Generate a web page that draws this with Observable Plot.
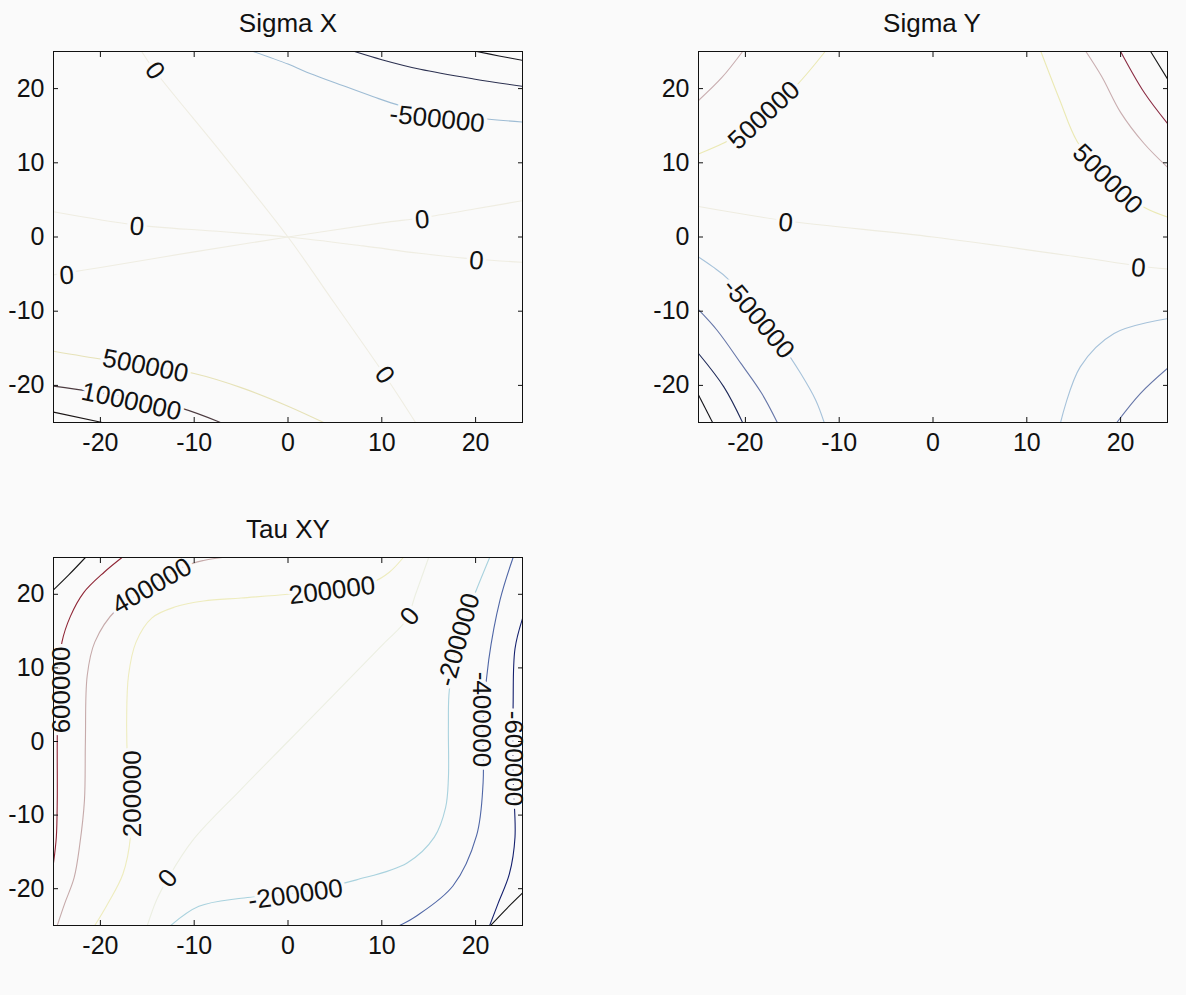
<!DOCTYPE html>
<html>
<head>
<meta charset="utf-8">
<script src="https://cdn.jsdelivr.net/npm/d3@7"></script>
<script src="https://cdn.jsdelivr.net/npm/@observablehq/plot@0.6"></script>
<style>
  body { margin: 0; background: #fafafa; }
  #fig { position: relative; width: 1186px; height: 995px; background: #fafafa;
         font-family: "Liberation Sans", Arial, Helvetica, sans-serif; overflow: hidden; }
  .title { position: absolute; font-size: 26px; line-height: 26px; color: #111;
           transform: translateX(-50%); white-space: nowrap; }
</style>
</head>
<body>
<div id="fig"></div>
<script>
// ---- shared axes -------------------------------------------------------
const axisTicks = [-20, -10, 0, 10, 20];
const axisDomain = [-25, 25];

// ---- Sigma X: contour levels and traced iso-lines ---------------------
const sigmaXLevels = [-1500000, -1000000, -500000, 0, 500000, 1000000, 1500000];
const sigmaXLines = [
  {level: -1500000, pts: [[20.1, 25], [22.5, 24.4], [25, 23.8]]},
  {level: -1000000, pts: [[7.1, 25], [10, 23.9], [14.1, 22.6], [19.8, 21.3], [25, 20.3]]},
  {level: -500000, pts: [[-3.7, 25], [0, 23.3], [2, 22.2], [5, 20.8], [9.1, 18.9], [12, 17.7], [16, 16.6], [21.2, 15.9], [25, 15.5]]},
  {level: 0, pts: [[-25, 3.4], [-16.1, 1.6], [-8, 0.8], [0, 0], [8, -1.2], [14, -2.2], [20.1, -3.0], [25, -3.4]]},
  {level: 0, pts: [[-25, -5.1], [-20, -4.1], [-10, -2.0], [0, 0], [10, 1.9], [14.3, 2.6], [20, 3.8], [25, 4.9]]},
  {level: 0, pts: [[-15.6, 25], [-14.2, 22.4], [-7, 11.2], [0, 0], [5, -9], [10.3, -18.6], [13.6, -25]]},
  {level: 500000, pts: [[-25, -15.4], [-19.7, -16.5], [-15, -17.3], [-10, -18.4], [-5, -20.3], [0, -22.8], [3.8, -25]]},
  {level: 1000000, pts: [[-25, -20.1], [-21, -20.8], [-16, -21.8], [-11.3, -23.1], [-7.2, -25]]},
  {level: 1500000, pts: [[-25, -23.6], [-19.8, -25]]}
];
const sigmaXLabels = [
  {level: -500000, x: 15.9, y: 15.9, angle: 6},
  {level: 0, x: -14.2, y: 22.4, angle: 53},
  {level: 0, x: -16.1, y: 1.4, angle: 5},
  {level: 0, x: 14.3, y: 2.3, angle: -5},
  {level: 0, x: -23.6, y: -5.2, angle: -5},
  {level: 0, x: 20.1, y: -3.2, angle: 5},
  {level: 0, x: 10.3, y: -18.6, angle: 53},
  {level: 500000, x: -15.2, y: -17.4, angle: 11},
  {level: 1000000, x: -16.7, y: -22.2, angle: 12}
];

// ---- Sigma Y ------------------------------------------------------------
const sigmaYLevels = [-2000000, -1500000, -1000000, -500000, 0, 500000, 1000000, 1500000, 2000000];
const sigmaYLines = [
  {level: -2000000, pts: [[-25, -21.3], [-23.5, -25]]},
  {level: -1500000, pts: [[-25, -15.7], [-22.3, -20.2], [-20.3, -25]]},
  {level: -1000000, pts: [[-25, -9.8], [-23, -12.6], [-20.5, -17], [-18.3, -21], [-16.6, -25]]},
  {level: -1000000, pts: [[19.6, -25], [22.1, -21.1], [25, -17.7]]},
  {level: -500000, pts: [[-25, -2.7], [-23.5, -4], [-21.9, -5.6], [-18.6, -11], [-16, -14.8], [-14.1, -18.4], [-12.5, -22], [-11.6, -25]]},
  {level: -500000, pts: [[13.6, -25], [15.7, -17.5], [19.3, -13], [25, -11]]},
  {level: 0, pts: [[-25, 4.1], [-15.7, 2.2], [0, 0], [15, -2.6], [21.9, -3.9], [25, -4.3]]},
  {level: 500000, pts: [[-25, 11.2], [-21.5, 13.2], [-18, 16.4], [-14.5, 20.5], [-11.5, 25]]},
  {level: 500000, pts: [[11.5, 25], [13.5, 18.5], [15.4, 12.8], [18.6, 7.8], [22.5, 4], [25, 2.7]]},
  {level: 1000000, pts: [[-25, 18.4], [-22.5, 21.5], [-20.3, 25]]},
  {level: 1000000, pts: [[16.3, 25], [18, 21.6], [20, 16.8], [22.5, 12.6], [25, 9.4]]},
  {level: 1500000, pts: [[20, 25], [22.5, 19.5], [25, 15.3]]},
  {level: 2000000, pts: [[23.2, 25], [25, 21.3]]}
];
const sigmaYLabels = [
  {level: 500000, x: -18.0, y: 16.4, angle: -43},
  {level: 500000, x: 18.6, y: 7.8, angle: 45},
  {level: 0, x: -15.7, y: 1.9, angle: 5},
  {level: 0, x: 21.9, y: -4.2, angle: 5},
  {level: -500000, x: -18.6, y: -11.0, angle: 50}
];

// ---- Tau XY -------------------------------------------------------------
const tauLevels = [-800000, -600000, -400000, -200000, 0, 200000, 400000, 600000, 800000];
const tauLines = [
  {level: 800000, pts: [[-25, 20.6], [-23.4, 22.6], [-21.6, 25]]},
  {level: 600000, pts: [[-17.7, 25], [-19.6, 23], [-21.8, 20.2], [-23.2, 17], [-24.1, 13.5], [-24.5, 8], [-24.6, 0], [-24.6, -8], [-24.7, -13], [-25, -16.5]]},
  {level: 400000, pts: [[-7, 25], [-9, 24.6], [-11, 23.8], [-14.5, 21], [-18.3, 17.9], [-20.6, 13.5], [-21.4, 9], [-21.6, 0], [-21.7, -8], [-22.2, -14], [-22.8, -18.5], [-23.8, -22], [-24.6, -25]]},
  {level: 200000, pts: [[12.3, 25], [10.8, 23], [9.1, 21.7], [4.7, 20.7], [0, 20], [-5, 19.5], [-9, 19.1], [-12, 18.3], [-14.5, 16.8], [-16.2, 13.5], [-17, 9], [-17.2, 3], [-17.1, -3], [-16.8, -8], [-16.8, -13], [-17.6, -18], [-19.2, -22], [-20.6, -25]]},
  {level: 0, pts: [[15, 25], [13.6, 20], [12.6, 16.5], [10.2, 13.3], [5, 6.5], [0, 0], [-5, -6.5], [-10.2, -13.5], [-12.8, -18.6], [-14, -21.5], [-15, -25]]},
  {level: -200000, pts: [[-12.5, -25], [-9.5, -22.4], [-5, -21.3], [0.8, -20.6], [7.3, -18.8], [12.7, -16.5], [15.6, -13], [16.8, -9], [17.1, -5], [17.1, 2], [17.2, 7], [18.2, 13.8], [19.6, 19], [21.5, 25]]},
  {level: -400000, pts: [[24, 25], [22.6, 19.2], [21.4, 11.1], [20.8, 3], [20.8, -5.6], [20.1, -12.8], [17.6, -19.6], [13.7, -23.7], [11.9, -25]]},
  {level: -600000, pts: [[25, 16.7], [24.2, 12.6], [24, 5], [24, -5], [24.2, -13], [23.6, -18], [22.4, -22], [21.5, -25]]},
  {level: -800000, pts: [[25, -20.6], [23.4, -22.6], [21.6, -25]]}
];
const tauLabels = [
  {level: 400000, x: -14.5, y: 21.1, angle: -30},
  {level: 200000, x: 4.7, y: 20.5, angle: -7},
  {level: 0, x: 13.0, y: 17.0, angle: -50},
  {level: 600000, x: -24.1, y: 7.0, angle: -90},
  {level: 200000, x: -16.6, y: -7.1, angle: -90},
  {level: 0, x: -12.8, y: -18.6, angle: -50},
  {level: -200000, x: 0.8, y: -20.8, angle: -8},
  {level: -200000, x: 18.2, y: 13.8, angle: -74},
  {level: -400000, x: 20.6, y: 3.0, angle: 90},
  {level: -600000, x: 24.0, y: -2.3, angle: 90}
];

// ---- line colours per level (dark extremes, pale near zero) -------------
const sigmaXColors = ["#17171f", "#2b3050", "#9ebcd4", "#efede2", "#e6e2b8", "#4c3b40", "#1b1616"];
const sigmaYColors = ["#121218", "#1d2858", "#6676a8", "#a6c2da", "#eeece0", "#ebe9b4", "#c9aeb0", "#8a2b42", "#181818"];
const tauColors = ["#141414", "#14206e", "#4f66a6", "#a9d2de", "#ecefe2", "#eeecbe", "#c6aaaa", "#8f2636", "#181818"];

const fig = document.getElementById("fig");
const FONT = '"Liberation Sans", Arial, Helvetica, sans-serif';
const BG = "#fafafa";

function addTitle(text, cx, top) {
  const d = document.createElement("div");
  d.className = "title";
  d.textContent = text;
  d.style.left = cx + "px";
  d.style.top = top + "px";
  fig.appendChild(d);
}

function contourPanel({lines, labels, levels, colors, left, top, w, h}) {
  const rows = lines.flatMap((l, i) => l.pts.map(([x, y]) => ({id: i, level: l.level, x, y})));
  const mL = 60, mT = 12, mR = 20, mB = 50;
  const fmt = d => String(d);
  const blank = () => "";
  const ticks = axisTicks;
  const chart = Plot.plot({
    width: w + mL + mR,
    height: h + mT + mB,
    marginLeft: mL, marginTop: mT, marginRight: mR, marginBottom: mB,
    x: {domain: axisDomain, label: null},
    y: {domain: axisDomain, label: null},
    color: {type: "ordinal", domain: levels, range: colors},
    style: {background: "transparent", fontSize: "25px", fontFamily: FONT, color: "#111", overflow: "visible"},
    marks: [
      Plot.line(rows, {x: "x", y: "y", z: "id", stroke: "level", strokeWidth: 1.1, curve: "catmull-rom", clip: true}),
      Plot.text(labels, {
        x: "x", y: "y", text: d => String(d.level), rotate: "angle",
        fontSize: 26, fill: "#111", stroke: BG, strokeWidth: 7, paintOrder: "stroke"
      }),
      Plot.frame({stroke: "#111"}),
      Plot.axisX({anchor: "bottom", ticks, tickSize: 0, tickPadding: 11, tickFormat: fmt, label: null}),
      Plot.axisX({anchor: "bottom", ticks, tickSize: -5, tickFormat: blank, label: null}),
      Plot.axisX({anchor: "top", ticks, tickSize: -5, tickFormat: blank, label: null}),
      Plot.axisY({anchor: "left", ticks, tickSize: 0, tickPadding: 9, tickFormat: fmt, label: null}),
      Plot.axisY({anchor: "left", ticks, tickSize: -5, tickFormat: blank, label: null}),
      Plot.axisY({anchor: "right", ticks, tickSize: -5, tickFormat: blank, label: null})
    ]
  });
  chart.style.position = "absolute";
  chart.style.left = (left - mL) + "px";
  chart.style.top = (top - mT) + "px";
  fig.appendChild(chart);
}

contourPanel({lines: sigmaXLines, labels: sigmaXLabels, levels: sigmaXLevels, colors: sigmaXColors,
              left: 53, top: 51, w: 469, h: 371});
contourPanel({lines: sigmaYLines, labels: sigmaYLabels, levels: sigmaYLevels, colors: sigmaYColors,
              left: 698, top: 51, w: 469, h: 371});
contourPanel({lines: tauLines, labels: tauLabels, levels: tauLevels, colors: tauColors,
              left: 53, top: 557, w: 469, h: 368});

addTitle("Sigma X", 288, 10);
addTitle("Sigma Y", 932, 10);
addTitle("Tau XY", 288, 516);
</script>
</body>
</html>
